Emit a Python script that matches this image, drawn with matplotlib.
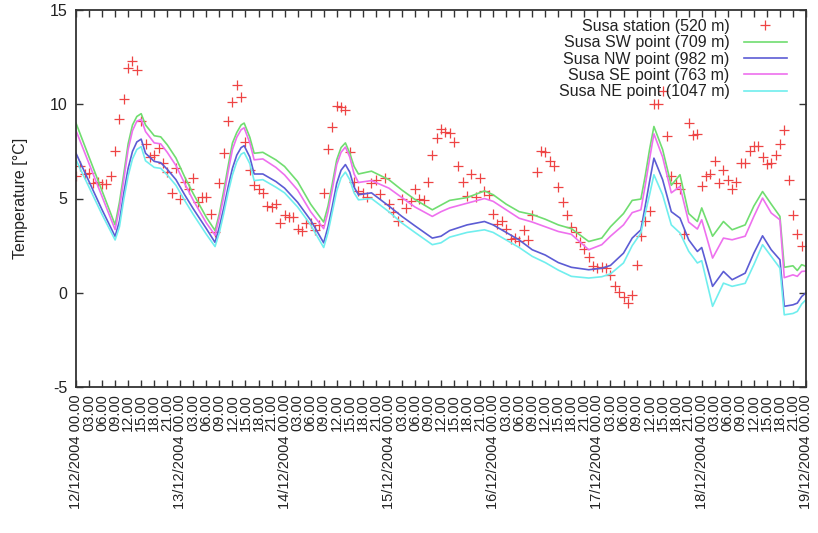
import matplotlib
matplotlib.use("Agg")
import matplotlib.pyplot as plt

plt.rcParams['font.family'] = ['Liberation Sans', 'DejaVu Sans']
plt.rcParams['axes.unicode_minus'] = False

# ---- data ----
station_hours = list(range(0, 168))
station_temp = [
    6.2, 6.7, 6.3, 6.35, 5.8, 5.87, 5.77, 5.78, 6.2, 7.5, 9.2, 10.3, 11.9, 12.3, 11.8, 9.1,
    7.9, 7.2, 7.3, 7.7, 6.9, 6.4, 5.3, 6.6,
    5.0, 5.85, 5.5, 6.1, 4.8, 5.1, 5.1, 4.2, 3.2, 5.8, 7.4, 9.1, 10.1, 11.0, 10.4, 8.0,
    6.5, 5.7, 5.5, 5.3, 4.6, 4.55, 4.7, 3.7,
    4.1, 4.0, 4.0, 3.4, 3.3, 3.7, 3.7, 3.35, 3.6, 5.3, 7.6, 8.8, 9.9, 9.85, 9.7, 7.45,
    5.9, 5.4, 5.3, 5.1, 5.8, 6.0, 5.25, 6.1,
    4.7, 4.3, 3.8, 5.0, 4.5, 4.85, 5.5, 5.0, 4.9, 5.9, 7.3, 8.2, 8.7, 8.55, 8.5, 8.0,
    6.7, 5.9, 5.15, 6.3, 5.1, 6.1, 5.4, 5.2,
    4.2, 3.65, 3.8, 3.4, 2.85, 2.9, 2.75, 3.35, 2.8, 4.15, 6.4, 7.5, 7.45, 7.0, 6.7, 5.6,
    4.8, 4.1, 3.5, 3.2, 2.7, 2.3, 1.9, 1.4,
    1.3, 1.35, 1.3, 0.95, 0.37, 0.04, -0.25, -0.55, -0.1, 1.45, 3.0, 3.8, 4.35, 10.0, 10.0, 10.7,
    8.3, 6.2, 5.8, 5.5, 3.1, 9.0, 8.35, 8.4,
    5.65, 6.2, 6.3, 7.0, 5.8, 6.5, 6.0, 5.5, 5.9, 6.9, 6.9, 7.5, 7.8, 7.8, 7.2, 6.85,
    6.9, 7.3, 7.9, 8.65, 6.0, 4.1, 3.1, 2.5,
]

model_hours = [0, 3, 6, 9, 10, 11, 12, 13, 14, 15, 16, 18, 19.5, 21, 23, 25, 27, 30, 32, 33,
               34, 35, 36, 37, 38, 38.7, 40, 41, 43, 46, 48, 51, 54, 57, 58, 59, 60, 61, 62, 63,
               64, 65, 68, 72, 75, 78, 82, 84, 86, 90, 94, 96, 99, 102, 105, 108, 111, 114, 118, 121,
               123, 126, 128, 130, 131, 132, 133, 135, 137, 139, 141, 143, 144, 146.5, 149, 151, 154, 156, 158, 160,
               162, 163, 165, 166, 167, 168]

sw_temp = [9.0, 7.2, 5.4, 3.6, 4.8, 6.3, 7.9, 8.9, 9.35, 9.5, 8.9, 8.33, 8.27, 7.85, 7.15, 6.15, 5.25, 4.0, 3.3, 4.2,
           5.4, 6.7, 7.94, 8.5, 8.9, 9.0, 8.25, 7.4, 7.45, 7.05, 6.7, 5.9, 4.7, 3.75, 4.6, 5.8, 7.05, 7.7, 7.95, 7.4,
           6.7, 6.3, 6.45, 6.0, 5.45, 4.95, 4.4, 4.65, 4.9, 5.05, 5.4, 5.2, 4.7, 4.3, 4.15, 3.9, 3.6, 3.4, 2.72, 2.9,
           3.5, 4.2, 4.9, 4.97, 6.2, 7.6, 8.82, 7.6, 5.7, 6.26, 4.2, 3.78, 4.5, 3.0, 3.78, 3.34, 3.6, 4.6, 5.37, 4.7,
           4.05, 1.35, 1.43, 1.18, 1.49, 1.4]

se_temp = [8.6, 6.85, 5.1, 3.35, 4.5, 6.0, 7.6, 8.6, 9.1, 9.2, 8.55, 7.95, 7.9, 7.45, 6.75, 5.8, 4.9, 3.7, 3.05, 4.0,
           5.1, 6.4, 7.6, 8.25, 8.65, 8.75, 7.95, 7.05, 7.1, 6.65, 6.25, 5.45, 4.3, 3.4, 4.3, 5.5, 6.8, 7.45, 7.73, 7.2,
           6.3, 5.85, 5.95, 5.55, 5.05, 4.55, 4.05, 4.3, 4.5, 4.75, 5.0, 4.85, 4.4, 3.95, 3.75, 3.5, 3.25, 3.1, 2.28, 2.55,
           3.0, 3.6, 4.25, 4.4, 5.7, 7.1, 8.43, 7.2, 5.3, 5.64, 3.75, 3.38, 3.87, 1.84, 2.9, 2.81, 3.0, 4.05, 5.02, 4.23,
           3.87, 0.8, 0.95, 0.87, 1.13, 1.15]

nw_temp = [7.4, 5.9, 4.4, 2.99, 3.8, 5.3, 6.6, 7.5, 8.0, 8.15, 7.4, 6.97, 6.9, 6.55, 6.0, 5.2, 4.45, 3.4, 2.67, 3.5,
           4.5, 5.6, 6.6, 7.3, 7.7, 7.8, 7.2, 6.3, 6.3, 5.9, 5.55, 4.8, 3.85, 2.65, 3.5, 4.6, 5.8, 6.5, 6.8, 6.4,
           5.6, 5.2, 5.3, 4.6, 4.05, 3.55, 2.9, 3.0, 3.3, 3.6, 3.78, 3.6, 3.2, 2.8, 2.28, 2.0, 1.6, 1.35, 1.22, 1.3,
           1.45, 2.1, 2.9, 3.34, 4.6, 5.9, 7.14, 6.0, 4.3, 3.96, 2.81, 2.19, 2.4, 0.34, 1.13, 0.69, 1.04, 2.1, 3.02, 2.28,
           1.75, -0.72, -0.64, -0.55, -0.2, 0.0]

ne_temp = [7.05, 5.6, 4.15, 2.8, 3.5, 4.95, 6.2, 7.1, 7.6, 7.75, 7.0, 6.65, 6.6, 6.25, 5.7, 4.9, 4.15, 3.1, 2.45, 3.2,
           4.2, 5.3, 6.25, 6.95, 7.35, 7.44, 6.85, 5.95, 6.0, 5.6, 5.3, 4.55, 3.6, 2.4, 3.2, 4.3, 5.4, 6.1, 6.4, 6.0,
           5.3, 4.93, 5.0, 4.3, 3.7, 3.2, 2.55, 2.65, 2.95, 3.2, 3.34, 3.2, 2.8, 2.4, 1.93, 1.6, 1.2, 0.87, 0.78, 0.85,
           1.0, 1.58, 2.5, 3.17, 4.2, 5.2, 6.26, 5.2, 3.6, 3.17, 2.2, 1.58, 1.7, -0.72, 0.51, 0.34, 0.5, 1.49, 2.55, 1.93,
           1.31, -1.17, -1.1, -0.99, -0.6, -0.37]

labels = ["Susa station (520 m)", "Susa SW point (709 m)", "Susa NW point (982 m)",
          "Susa SE point (763 m)", "Susa NE point (1047 m)"]
colors = ["#ee4444", "#70dd70", "#5c5cd4", "#ee70ee", "#70eeee"]

days = [12, 13, 14, 15, 16, 17, 18, 19]
tick_hours = list(range(0, 169, 3))
tick_labels = []
for h in tick_hours:
    if h % 24 == 0:
        tick_labels.append(f"{days[h // 24]}/12/2004 00.00")
    else:
        tick_labels.append(f"{h % 24:02d}.00")

y_ticks = [-5, 0, 5, 10, 15]

# ---- figure ----
fig = plt.figure(figsize=(8.18, 5.33), dpi=100)
ax = fig.add_axes([76 / 818, 146 / 533, 730 / 818, 377 / 533])

ax.plot(station_hours, station_temp, linestyle='none', marker='+', markersize=6.5,
        markeredgewidth=0.9, color=colors[0], label=labels[0])
ax.plot(model_hours, sw_temp, color=colors[1], lw=1.2, label=labels[1])
ax.plot(model_hours, nw_temp, color=colors[2], lw=1.2, label=labels[2])
ax.plot(model_hours, se_temp, color=colors[3], lw=1.2, label=labels[3])
ax.plot(model_hours, ne_temp, color=colors[4], lw=1.2, label=labels[4])

ax.set_xlim(0, 168)
ax.set_ylim(-5, 15)
ax.set_xticks(tick_hours)
ax.set_xticklabels(tick_labels, rotation=90, fontsize=10.5, color='#222222')
ax.set_yticks(y_ticks)
ax.set_yticklabels([str(v) for v in y_ticks], fontsize=11.5, color='#222222')
ax.tick_params(axis='both', direction='in', length=5, width=1, color='#333333',
               top=True, right=True)
ax.tick_params(axis='x', pad=5)
ax.tick_params(axis='y', pad=6)
for s in ax.spines.values():
    s.set_linewidth(1.3)
    s.set_color('#333333')

ax.set_ylabel("Temperature [°C]", fontsize=11.5, color='#222222', labelpad=16)

leg = ax.legend(loc='upper right', bbox_to_anchor=(0.974, 0.976), frameon=False,
                markerfirst=False, fontsize=11.5, handlelength=2.7, handletextpad=0.9,
                labelspacing=0.08, borderaxespad=0, borderpad=0)
for t in leg.get_texts():
    t.set_color('#222222')
leg._legend_box.align = "right"

fig.savefig("out.png", dpi=100)
